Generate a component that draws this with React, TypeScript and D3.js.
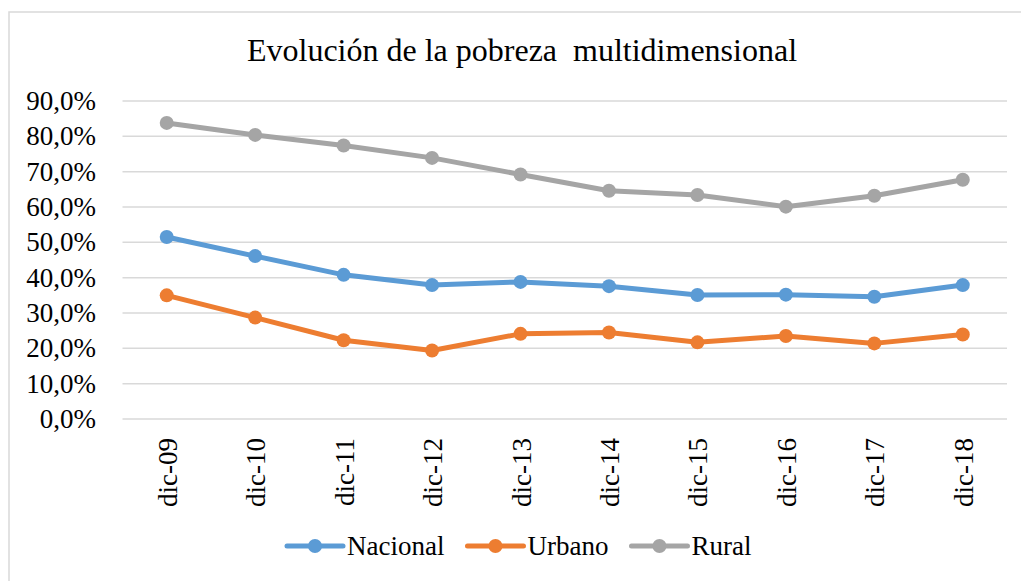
import React from "react";
import * as d3 from "d3";

const categories = ["dic-09", "dic-10", "dic-11", "dic-12", "dic-13", "dic-14", "dic-15", "dic-16", "dic-17", "dic-18"];
const nacional = [51.5, 46.1, 40.8, 37.9, 38.8, 37.6, 35.1, 35.2, 34.6, 37.9];
const urbano = [35.0, 28.7, 22.3, 19.4, 24.1, 24.5, 21.7, 23.5, 21.4, 23.9];
const rural = [83.8, 80.4, 77.4, 73.9, 69.2, 64.6, 63.4, 60.1, 63.2, 67.7];
const yTicks = [0, 10, 20, 30, 40, 50, 60, 70, 80, 90];
const seriesNames = ["Nacional", "Urbano", "Rural"];
const seriesColors = ["#5B9BD5", "#ED7D31", "#A5A5A5"];
const title = "Evolución de la pobreza  multidimensional";

const W = 1021;
const H = 581;
const FONT = "Liberation Serif";

export default function App() {
  const series = [nacional, urbano, rural];
  const x = d3.scaleBand<string>().domain(categories).range([122.5, 1007]);
  const y = d3.scaleLinear().domain([0, 90]).range([419, 101]);
  const cx = (c: string) => (x(c) as number) + x.bandwidth() / 2;
  const line = d3
    .line<number>()
    .x((_, i) => cx(categories[i]))
    .y((v) => y(v));
  const fmt = (v: number) => v.toFixed(1).replace(".", ",") + "%";

  const legFont = 27;
  const lineW = 56;
  const gapText = 4;
  const itemGap = 23;
  const textW = [3.61, 3.0, 2.222].map((e) => e * legFont);
  let lx = 287;
  const legendItems = seriesNames.map((n, i) => {
    const item = { name: n, x: lx, color: seriesColors[i] };
    lx += lineW + gapText + textW[i] + itemGap;
    return item;
  });
  const legY = 546;
  const ts: React.CSSProperties = { fontFamily: FONT, whiteSpace: "pre" };

  return (
    <svg
      width={W}
      height={H}
      style={{ position: "fixed", left: 0, top: 0, background: "#fff", fontFamily: FONT }}
    >
      <rect x={0} y={0} width={W} height={H} fill="#fff" />
      <rect x={9} y={12} width={W + 20} height={H + 20} fill="none" stroke="#D9D9D9" strokeWidth={1.5} />
      <text x={522} y={61} textAnchor="middle" fontSize={32} fill="#000" style={ts}>
        {title}
      </text>
      {yTicks.map((t) => (
        <g key={t}>
          <line x1={122.5} x2={1007} y1={y(t)} y2={y(t)} stroke="#D9D9D9" strokeWidth={1.5} />
          <text x={96} y={y(t) + 9} textAnchor="end" fontSize={27} fill="#000" style={ts}>
            {fmt(t)}
          </text>
        </g>
      ))}
      {categories.map((c) => (
        <text
          key={c}
          transform={`translate(${cx(c) + 10},438) rotate(-90)`}
          textAnchor="end"
          fontSize={27}
          fill="#000"
          style={ts}
        >
          {c}
        </text>
      ))}
      {series.map((s, i) => (
        <g key={i}>
          <path d={line(s) || ""} fill="none" stroke={seriesColors[i]} strokeWidth={5} strokeLinejoin="round" strokeLinecap="round" />
          {s.map((v, j) => (
            <circle key={j} cx={cx(categories[j])} cy={y(v)} r={7} fill={seriesColors[i]} />
          ))}
        </g>
      ))}
      {legendItems.map((it) => (
        <g key={it.name}>
          <line x1={it.x} x2={it.x + lineW} y1={legY} y2={legY} stroke={it.color} strokeWidth={5} strokeLinecap="round" />
          <circle cx={it.x + lineW / 2} cy={legY} r={7} fill={it.color} />
          <text x={it.x + lineW + gapText} y={legY + 9} fontSize={legFont} fill="#000" style={ts}>
            {it.name}
          </text>
        </g>
      ))}
    </svg>
  );
}
